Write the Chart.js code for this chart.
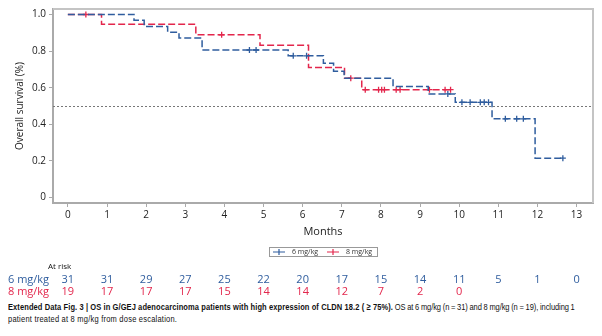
<!DOCTYPE html>
<html>
<head>
<meta charset="utf-8">
<script src="https://cdn.jsdelivr.net/npm/chart.js@4"></script>
<style>
	body { margin: 0; background: #fff; }
	#wrap { position: relative; width: 602px; height: 336px; overflow: hidden; }
	#caption {
		position: absolute; left: 8px; top: 301px; white-space: nowrap;
		font-family: "Liberation Sans", "DejaVu Sans", sans-serif;
		font-size: 9.5px; line-height: 12px; color: #111;
		transform: scaleX(0.79); transform-origin: 0 0;
	}
	#caption b { letter-spacing: 0.12px; }
	#caption .r1 { letter-spacing: -0.1px; word-spacing: -0.3px; }
	#caption .r2 { letter-spacing: 0.28px; }
</style>
</head>
<body>
<div id="wrap">
	<canvas id="km" width="602" height="300"></canvas>
	<div id="caption"><b>Extended Data Fig. 3 | OS in G/GEJ adenocarcinoma patients with high expression of CLDN 18.2 ( ≥ 75%).</b><span class="r1"> OS at 6 mg/kg (n = 31) and 8 mg/kg (n = 19), including 1</span><br><span class="r2">patient treated at 8 mg/kg from dose escalation.</span></div>
</div>
<script>
(function () {
	// 6 mg/kg
	const bajaT = [0, 1.69, 1.95, 2.55, 2.84, 3.43, 5.63, 6.53, 6.79, 7.06, 8.31, 9.21, 9.90, 10.84, 11.94, 12.65];
	const bajaS = [1, 0.968, 0.935, 0.903, 0.871, 0.806, 0.774, 0.733, 0.690, 0.652, 0.607, 0.566, 0.520, 0.430, 0.215, 0.215];
	const bajaCens = [4.64, 4.81, 5.76, 6.10, 9.71, 10.07, 10.28, 10.54, 10.64, 10.75, 11.18, 11.47, 11.64, 12.65];
	// 8 mg/kg
	const altaT = [0, 0.86, 3.27, 4.91, 6.15, 7.07, 7.51, 9.81];
	const altaS = [1, 0.947, 0.889, 0.832, 0.711, 0.652, 0.589, 0.589];
	const altaCens = [0.46, 3.93, 7.23, 7.60, 7.94, 8.02, 8.09, 8.39, 8.49, 9.24, 9.64, 9.78];

	const meses = [0, 1, 2, 3, 4, 5, 6, 7, 8, 9, 10, 11, 12, 13];
	const ticksY = [0, 0.2, 0.4, 0.6, 0.8, 1.0];
	const riesgoBaja = [31, 31, 29, 27, 25, 22, 20, 17, 15, 14, 11, 5, 1, 0];
	const riesgoAlta = [19, 17, 17, 17, 15, 14, 14, 12, 7, 2, 0];

	const azul = "#2f5d9e";
	const rojo = "#e3264c";
	const fuente = "'Open Sans', 'DejaVu Sans', sans-serif";

	function valorEn(tiempos, surv, t) {
		let v = surv[0];
		for (let i = 0; i < tiempos.length; i++) {
			if (tiempos[i] <= t) v = surv[i];
		}
		return v;
	}

	const extras = {
		id: "extras",
		beforeDatasetsDraw(chart) {
			const c = chart.ctx;
			const a = chart.chartArea;
			const y = chart.scales.y;
			c.save();
			// linea de referencia en 0.5
			c.strokeStyle = "#777";
			c.lineWidth = 1;
			c.setLineDash([2, 2]);
			c.beginPath();
			c.moveTo(a.left, Math.round(y.getPixelForValue(0.5)) + 0.5);
			c.lineTo(a.right, Math.round(y.getPixelForValue(0.5)) + 0.5);
			c.stroke();
			c.setLineDash([]);
			// marco arriba y derecha
			c.strokeStyle = "#c4c4c4";
			c.lineWidth = 2;
			c.beginPath();
			c.moveTo(a.left, a.top);
			c.lineTo(a.right, a.top);
			c.lineTo(a.right, a.bottom);
			c.stroke();
			c.restore();
		},
		afterDraw(chart) {
			const c = chart.ctx;
			const a = chart.chartArea;
			const x = chart.scales.x;
			c.save();
			c.fillStyle = "#222";
			c.font = "11px " + fuente;
			c.textAlign = "center";
			c.textBaseline = "middle";
			c.fillText("Months", (a.left + a.right) / 2, 232);
			c.save();
			c.translate(20, (a.top + a.bottom) / 2);
			c.rotate(-Math.PI / 2);
			c.font = "10px " + fuente;
			c.fillText("Overall survival (%)", 0, 0);
			c.restore();

			// leyenda
			c.strokeStyle = "#999";
			c.lineWidth = 1;
			c.strokeRect(269.5, 247.5, 108, 9);
			c.font = "7px " + fuente;
			c.textAlign = "left";
			[[azul, "6 mg/kg", 273], [rojo, "8 mg/kg", 327]].forEach(([col, txt, x0]) => {
				c.strokeStyle = col;
				c.lineWidth = 1.2;
				c.beginPath();
				c.moveTo(x0, 252);
				c.lineTo(x0 + 12, 252);
				c.moveTo(x0 + 6, 249);
				c.lineTo(x0 + 6, 255);
				c.stroke();
				c.fillStyle = "#333";
				c.fillText(txt, x0 + 19, 252);
			});

			// tabla de pacientes en riesgo
			c.fillStyle = "#111";
			c.font = "8px " + fuente;
			c.fillText("At risk", 48, 267);
			c.font = "11px " + fuente;
			c.fillStyle = azul;
			c.fillText("6 mg/kg", 8, 280);
			c.fillStyle = rojo;
			c.fillText("8 mg/kg", 8, 292);
			c.textAlign = "center";
			riesgoBaja.forEach((n, i) => {
				c.fillStyle = azul;
				c.fillText(String(n), x.getPixelForValue(meses[i]), 280);
			});
			riesgoAlta.forEach((n, i) => {
				c.fillStyle = rojo;
				c.fillText(String(n), x.getPixelForValue(meses[i]), 292);
			});
			c.restore();
		},
	};

	const linea = (t, s, col, nombre) => ({
		type: "line",
		label: nombre,
		data: t.map((v, i) => ({ x: v, y: s[i] })),
		borderColor: col,
		borderWidth: 1.5,
		borderDash: [7, 3],
		stepped: "before",
		pointRadius: 0,
		fill: false,
	});
	const cruces = (cens, t, s, col) => ({
		type: "scatter",
		data: cens.map((v) => ({ x: v, y: valorEn(t, s, v) })),
		pointStyle: "cross",
		pointRadius: 3,
		borderColor: col,
		borderWidth: 1.3,
		showLine: false,
	});

	new Chart(document.getElementById("km"), {
		type: "scatter",
		data: {
			datasets: [
				linea(bajaT, bajaS, azul, "6 mg/kg"),
				linea(altaT, altaS, rojo, "8 mg/kg"),
				cruces(bajaCens, bajaT, bajaS, azul),
				cruces(altaCens, altaT, altaS, rojo),
			],
		},
		options: {
			responsive: false,
			animation: false,
			layout: { padding: { top: 6, right: 9, bottom: 67, left: 0 } },
			plugins: { legend: { display: false }, tooltip: { enabled: false } },
			scales: {
				x: {
					type: "linear",
					min: -0.38,
					max: 13.42,
					afterBuildTicks: (s) => { s.ticks = meses.map((v) => ({ value: v })); },
					afterFit: (s) => { s.height = 30; },
					ticks: { color: "#222", font: { size: 10, family: fuente }, padding: 2 },
					grid: { drawOnChartArea: false, tickLength: 4, color: "#aaa" },
					border: { color: "#aaa", width: 2 },
				},
				y: {
					min: -0.03,
					max: 1.03,
					afterBuildTicks: (s) => { s.ticks = ticksY.map((v) => ({ value: v })); },
					afterFit: (s) => { s.width = 53; },
					ticks: {
						color: "#222",
						font: { size: 10, family: fuente },
						padding: 3,
						callback: (v) => (v === 0 ? "0" : v.toFixed(1)),
					},
					grid: { drawOnChartArea: false, tickLength: 4, color: "#aaa" },
					border: { color: "#aaa", width: 2 },
				},
			},
		},
		plugins: [extras],
	});
})();
</script>
</body>
</html>
